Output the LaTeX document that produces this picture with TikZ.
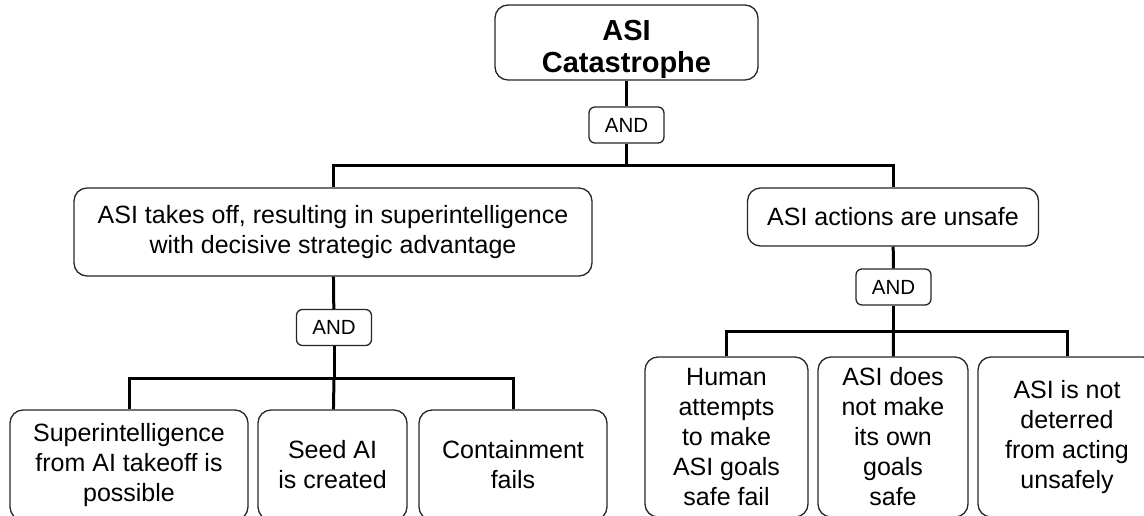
\documentclass[tikz,border=0pt]{standalone}
\usepackage{fontspec}
\setmainfont{Liberation Sans}
\begin{document}
\begin{tikzpicture}[x=1pt, y=-1pt,
        box/.style={draw=black!85, line width=1.3pt, rounded corners=13pt,
            align=center, inner sep=0pt, font=\fontsize{25}{30}\selectfont},
        gate/.style={draw=black!85, line width=1.3pt, rounded corners=6pt,
            inner sep=0pt, minimum width=75pt, minimum height=36pt,
            font=\fontsize{20.5}{24}\selectfont},
        link/.style={line width=3pt}]
        % Page frame
        \useasboundingbox (0,0) rectangle (1144,515);

        % Top event
        \node[box, minimum width=263pt, minimum height=75pt, text height=66pt,
            font=\fontsize{29}{32}\selectfont\bfseries] (top) at (626.5,42.5) {ASI\\Catastrophe};
        \node[gate] (and1) at (626.5,125) {AND};

        % Second level
        \node[box, minimum width=518pt, minimum height=88pt] (takeoff) at (333,232)
            {ASI takes off, resulting in superintelligence\\with decisive strategic advantage};
        \node[box, minimum width=291pt, minimum height=58pt] (unsafe) at (893,217)
            {ASI actions are unsafe};

        \node[gate] (and2) at (334,327.5) {AND};
        \node[gate] (and3) at (893.5,287) {AND};

        % Leaves under the takeoff branch
        \node[box, minimum width=238pt, minimum height=110pt] (possible) at (129,465)
            {Superintelligence\\from AI takeoff is\\possible};
        \node[box, minimum width=149pt, minimum height=110pt] (seed) at (332.5,465)
            {Seed AI\\is created};
        \node[box, minimum width=188pt, minimum height=110pt] (contain) at (513,465)
            {Containment\\fails};

        % Leaves under the unsafe branch
        \node[box, minimum width=163pt, minimum height=160pt] (human) at (726.5,437)
            {Human\\attempts\\to make\\ASI goals\\safe fail};
        \node[box, minimum width=150pt, minimum height=160pt] (own) at (893,437)
            {ASI does\\not make\\its own\\goals\\safe};
        \node[box, minimum width=178pt, minimum height=160pt] (deter) at (1067,437)
            {ASI is not\\deterred\\from acting\\unsafely};

        % Bus points
        \coordinate (bus1) at (626.5,165);
        \coordinate (bus2) at (334,378);
        \coordinate (bus3) at (893.5,331);

        % Connectors
        \draw[link] (top) -- (and1);
        \draw[link] (and1) -- (bus1);
        \draw[link] (bus1) -| (takeoff);
        \draw[link] (bus1) -| (unsafe);

        \draw[link] (takeoff) -- (and2);
        \draw[link] (and2) -- (bus2);
        \draw[link] (bus2) -| (possible);
        \draw[link] (bus2) -- (seed);
        \draw[link] (bus2) -| (contain);

        \draw[link] (unsafe) -- (and3);
        \draw[link] (and3) -- (bus3);
        \draw[link] (bus3) -| (human);
        \draw[link] (bus3) -- (own);
        \draw[link] (bus3) -| (deter);
\end{tikzpicture}
\end{document}
